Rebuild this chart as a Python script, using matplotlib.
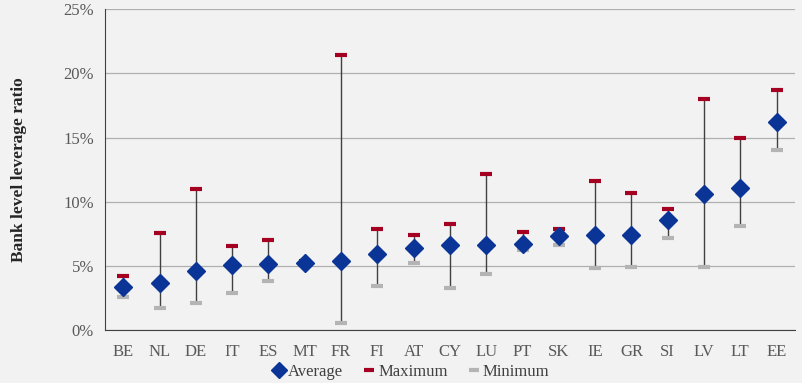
import numpy as np
import matplotlib.pyplot as plt
from matplotlib.ticker import PercentFormatter

countries = ["BE", "NL", "DE", "IT", "ES", "MT", "FR", "FI", "AT", "CY",
             "LU", "PT", "SK", "IE", "GR", "SI", "LV", "LT", "EE"]
average = [3.35, 3.68, 4.6, 5.05, 5.15, 5.25, 5.35, 5.97, 6.37, 6.6,
           6.65, 6.72, 7.35, 7.45, 7.45, 8.55, 10.6, 11.1, 16.22]
maximum = [4.2, 7.6, 10.96, 6.52, 7.06, 5.4, 21.4, 7.87, 7.38, 8.28,
           12.13, 7.61, 7.84, 11.58, 10.72, 9.4, 18.0, 14.95, 18.71]
minimum = [2.6, 1.74, 2.08, 2.86, 3.79, 5.2, 0.55, 3.43, 5.22, 3.25,
           4.41, 6.28, 6.6, 4.83, 4.88, 7.14, 4.93, 8.15, 14.0]

plt.rcParams["font.family"] = ["Liberation Serif", "DejaVu Serif"]

bg = "#f2f2f2"
fig = plt.figure(figsize=(8.02, 3.83), dpi=100, facecolor=bg)
ax = fig.add_axes([0.131, 0.138, 0.86, 0.838], facecolor=bg)

x = np.arange(len(countries))
ax.vlines(x, minimum, maximum, color="#404040", lw=1, zorder=2)
ax.plot(x, maximum, linestyle="none", marker="_", ms=8, mew=3,
        color="#a50021", label="Maximum", zorder=3)
ax.plot(x, minimum, linestyle="none", marker="_", ms=8, mew=3,
        color="#b4b4b4", label="Minimum", zorder=3)
ax.plot(x, average, linestyle="none", marker="D", ms=9,
        color="#0a3597", label="Average", zorder=4)

ax.set_xlim(-0.5, len(countries) - 0.5)
ax.set_ylim(0, 25)
ax.set_yticks(np.arange(0, 26, 5))
ax.yaxis.set_major_formatter(PercentFormatter(decimals=0))
ax.set_xticks(x)
ax.set_xticklabels(countries)
ax.grid(axis="y", color="#b0b0b0", lw=0.9, zorder=0)
ax.set_axisbelow(True)
for s in ["top", "right"]:
    ax.spines[s].set_visible(False)
for s in ["left", "bottom"]:
    ax.spines[s].set_color("#404040")
ax.tick_params(length=0, labelsize=12, colors="#595959", pad=8)
ax.tick_params(axis="x", pad=10)
ax.set_ylabel("Bank level leverage ratio", fontsize=12.5, fontweight="bold",
              color="#262626", labelpad=26)

h, l = ax.get_legend_handles_labels()
order = [2, 0, 1]
fig.legend([h[i] for i in order], [l[i] for i in order], loc="lower center",
           bbox_to_anchor=(0.513, 0.004), ncol=3, frameon=False, fontsize=12,
           handlelength=0.7, handletextpad=0.2, columnspacing=1.2,
           markerscale=0.85, borderpad=0.1, borderaxespad=0.0,
           labelcolor="#404040")

fig.savefig("out.png", dpi=100, facecolor=bg)
